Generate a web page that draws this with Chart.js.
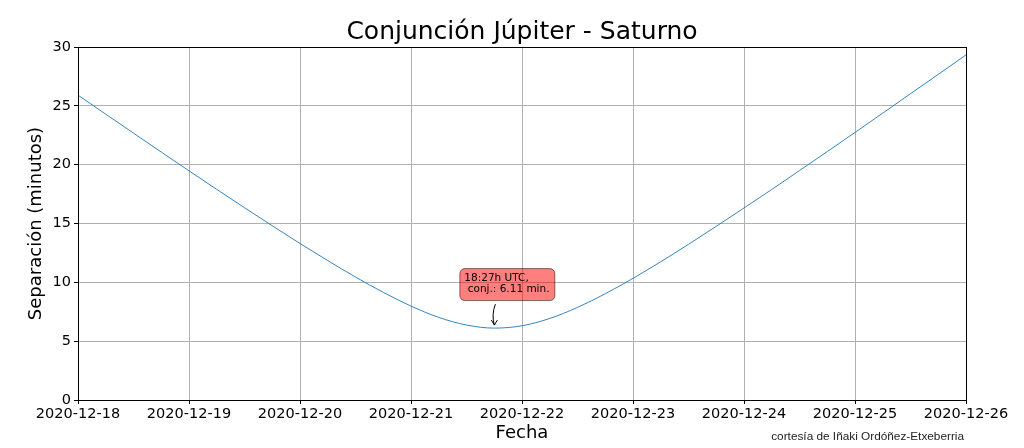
<!DOCTYPE html>
<html>
<head>
<meta charset="utf-8">
<script src="https://cdn.jsdelivr.net/npm/chart.js@4.4.0/dist/chart.umd.min.js"></script>
<style>
html, body { margin: 0; padding: 0; background: #fff; }
</style>
</head>
<body>
<canvas id="myChart" width="1024" height="448"></canvas>
<script>
// fechas del eje x (un tick por dia)
const dayLabels = ["2020-12-18", "2020-12-19", "2020-12-20", "2020-12-21", "2020-12-22",
    "2020-12-23", "2020-12-24", "2020-12-25", "2020-12-26"];

// dias desde 2020-12-18 00h, cada 6 horas
const days = [0, 0.25, 0.5, 0.75, 1, 1.25, 1.5, 1.75, 2, 2.25, 2.5, 2.75, 3, 3.25, 3.5, 3.75,
    4, 4.25, 4.5, 4.75, 5, 5.25, 5.5, 5.75, 6, 6.25, 6.5, 6.75, 7, 7.25, 7.5, 7.75, 8];

// separacion en minutos de arco
const separacion = [25.91, 24.29, 22.68, 21.07, 19.48, 17.90, 16.34, 14.81, 13.30, 11.85,
    10.45, 9.15, 7.98, 7.02, 6.37, 6.11, 6.31, 6.93, 7.87, 9.03, 10.34, 11.75, 13.23, 14.76,
    16.32, 17.89, 19.50, 21.11, 22.74, 24.38, 26.03, 27.67, 29.33];

const yTicks = [0, 5, 10, 15, 20, 25, 30];

// conjuncion: 2020-12-21 18:27 UTC
const conjDay = 3.769;
const conjSep = 6.11;
const conjText = ["18:27h UTC,", " conj.: 6.11 min."];

const titulo = "Conjunción Júpiter - Saturno";
const credit = "cortesía de Iñaki Ordóñez-Etxeberria";

let points = [];
for (let i = 0; i < days.length; i++) {
    points.push({ x: days[i], y: separacion[i] });
}

const extras = {
    id: 'extras',
    afterDatasetsDraw(chart) {
        const ctx = chart.ctx;
        const x = chart.scales.x, y = chart.scales.y;
        const px = x.getPixelForValue(conjDay);
        const py = y.getPixelForValue(conjSep);
        ctx.save();
        // caja roja
        const bx = px - 37, by = py - 60, bw = 95, bh = 32;
        ctx.beginPath();
        ctx.roundRect(bx + 0.5, by + 0.5, bw, bh, 5);
        ctx.fillStyle = 'rgba(255,0,0,0.5)';
        ctx.fill();
        ctx.strokeStyle = 'rgba(0,0,0,0.5)';
        ctx.lineWidth = 1;
        ctx.stroke();
        ctx.fillStyle = '#000';
        ctx.font = '10.5px "DejaVu Sans"';
        ctx.textBaseline = 'middle';
        ctx.textAlign = 'left';
        ctx.fillText(conjText[0], bx + 5, by + 10);
        ctx.fillText(conjText[1], bx + 5, by + 21);
        // flecha
        ctx.beginPath();
        ctx.moveTo(px - 1, py - 24);
        ctx.quadraticCurveTo(px - 5, py - 13, px - 2, py - 3);
        ctx.strokeStyle = '#000';
        ctx.lineWidth = 1;
        ctx.stroke();
        ctx.beginPath();
        ctx.moveTo(px - 5, py - 8);
        ctx.lineTo(px - 2, py - 3);
        ctx.lineTo(px + 1, py - 8);
        ctx.stroke();
        ctx.restore();
    },
    afterDraw(chart) {
        const ctx = chart.ctx;
        const a = chart.chartArea;
        ctx.save();
        ctx.strokeStyle = '#000';
        ctx.lineWidth = 1;
        ctx.strokeRect(Math.round(a.left) + 0.5, Math.round(a.top) + 0.5,
            Math.round(a.right - a.left), Math.round(a.bottom - a.top));
        // titulo centrado sobre el area de datos
        ctx.fillStyle = '#000';
        ctx.font = '25px "DejaVu Sans"';
        ctx.textAlign = 'center';
        ctx.textBaseline = 'middle';
        ctx.fillText(titulo, (a.left + a.right) / 2, 32);
        ctx.fillStyle = '#222';
        ctx.font = '11.8px "Liberation Sans"';
        ctx.textAlign = 'right';
        ctx.textBaseline = 'alphabetic';
        ctx.fillText(credit, a.right - 2, 440);
        ctx.restore();
    }
};

new Chart("myChart", {
    type: "line",
    data: {
        datasets: [{
            data: points,
            borderColor: "#1f77b4",
            borderWidth: 0.9,
            pointRadius: 0,
            cubicInterpolationMode: 'monotone',
            fill: false
        }]
    },
    options: {
        responsive: false,
        animation: false,
        events: [],
        layout: { padding: { left: 0, right: 58, top: 47, bottom: 0 } },
        plugins: {
            legend: { display: false },
            tooltip: { enabled: false },
            title: { display: false }
        },
        scales: {
            x: {
                type: 'linear',
                min: 0,
                max: 8,
                afterBuildTicks(scale) {
                    scale.ticks = dayLabels.map((d, i) => ({ value: i }));
                },
                afterFit(scale) { scale.height = 48; },
                ticks: {
                    color: '#000',
                    font: { family: 'DejaVu Sans', size: 14.5 },
                    padding: 2,
                    maxRotation: 0,
                    autoSkip: false,
                    callback: (v) => dayLabels[v]
                },
                grid: { color: '#b0b0b0', lineWidth: 1, tickColor: '#000', tickLength: 4 },
                border: { display: false },
                title: {
                    display: true,
                    text: "Fecha",
                    color: '#000',
                    font: { family: 'DejaVu Sans', size: 18 },
                    padding: { top: 0, bottom: 4 }
                }
            },
            y: {
                min: 0,
                max: 30,
                afterBuildTicks(scale) {
                    scale.ticks = yTicks.map(v => ({ value: v }));
                },
                afterFit(scale) { scale.width = 78; },
                ticks: {
                    color: '#000',
                    font: { family: 'DejaVu Sans', size: 14.5 },
                    padding: 3
                },
                grid: { color: '#b0b0b0', lineWidth: 1, tickColor: '#000', tickLength: 4 },
                border: { display: false },
                title: {
                    display: true,
                    text: "Separación (minutos)",
                    color: '#000',
                    font: { family: 'DejaVu Sans', size: 18 },
                    padding: { top: 26, bottom: 0 }
                }
            }
        }
    },
    plugins: [extras]
});
</script>
</body>
</html>
